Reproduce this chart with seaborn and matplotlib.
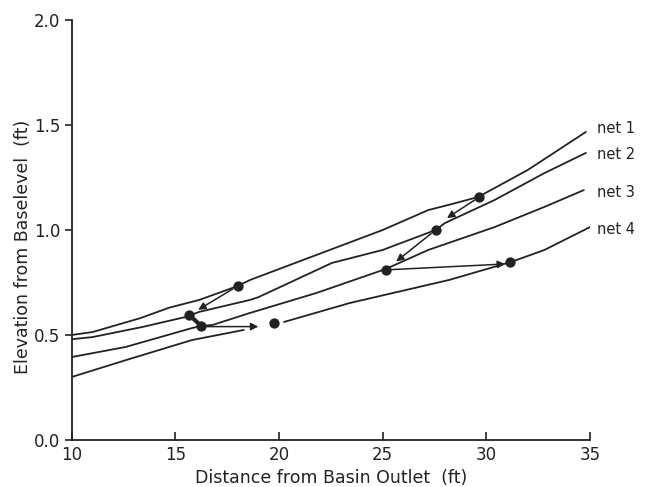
import matplotlib
matplotlib.use("Agg")
import matplotlib.pyplot as plt
import seaborn as sns
import pandas as pd

# ---- data ----
net1_x = [10, 11, 13.3, 14.7, 16.15, 18.0, 18.6, 21.8, 25.0, 27.2, 28.2, 29.6, 32.0, 34.8]
net1_y = [0.50, 0.514, 0.58, 0.63, 0.667, 0.733, 0.762, 0.881, 1.0, 1.095, 1.12, 1.157, 1.286, 1.467]

net2_x = [10, 11, 13.4, 15.5, 16.15, 18.6, 19.0, 22.55, 25.0, 27.55, 28.0, 30.4, 32.8, 34.8]
net2_y = [0.48, 0.49, 0.538, 0.586, 0.61, 0.667, 0.68, 0.843, 0.905, 1.0, 1.033, 1.143, 1.271, 1.367]

net3_x = [10, 12.6, 15.8, 16.25, 16.8, 18.6, 21.8, 25.14, 27.2, 30.4, 32.8, 34.7]
net3_y = [0.395, 0.443, 0.533, 0.543, 0.548, 0.605, 0.70, 0.814, 0.905, 1.014, 1.11, 1.19]

net4a_x = [10, 12.6, 15.8, 18.3]
net4a_y = [0.30, 0.38, 0.476, 0.524]
net4b_x = [20.24, 23.4, 28.2, 31.2, 32.8, 35.0]
net4b_y = [0.562, 0.652, 0.762, 0.848, 0.905, 1.014]

net_labels = ["net 1", "net 2", "net 3", "net 4"]
label_y = [1.485, 1.36, 1.18, 1.0]

dots_x = [18.0, 15.67, 16.25, 19.76, 29.66, 27.55, 25.14, 31.15]
dots_y = [0.733, 0.595, 0.543, 0.557, 1.157, 1.0, 0.81, 0.848]

arrow_from_x = [18.0, 16.25, 29.66, 27.55, 25.14]
arrow_from_y = [0.733, 0.540, 1.157, 1.0, 0.81]
arrow_to_x = [16.1, 19.0, 28.1, 25.65, 30.9]
arrow_to_y = [0.62, 0.540, 1.057, 0.85, 0.838]

link_x = [15.67, 16.25]
link_y = [0.595, 0.543]

x_ticks = [10, 15, 20, 25, 30, 35]
y_ticks = [0.0, 0.5, 1.0, 1.5, 2.0]

# ---- build long table ----
rows = []
for seg, (xs, ys) in {"net1": (net1_x, net1_y), "net2": (net2_x, net2_y),
                      "net3": (net3_x, net3_y), "net4a": (net4a_x, net4a_y),
                      "net4b": (net4b_x, net4b_y)}.items():
    for x, y in zip(xs, ys):
        rows.append({"seg": seg, "x": x, "y": y})
df = pd.DataFrame(rows)
dots = pd.DataFrame({"x": dots_x, "y": dots_y})

sns.set_style("ticks")
plt.rcParams["font.family"] = ["DejaVu Sans"]
ink = "#222222"

fig = plt.figure(figsize=(6.52, 4.87), dpi=100)
ax = fig.add_axes([0.110, 0.0965, 0.795, 0.8625])

sns.lineplot(data=df, x="x", y="y", units="seg", estimator=None, sort=False,
             color=ink, linewidth=1.3, ax=ax, legend=False)
sns.lineplot(x=link_x, y=link_y, color=ink, linewidth=3.0, ax=ax, legend=False)
sns.scatterplot(data=dots, x="x", y="y", color=ink, s=55, edgecolor=ink,
                linewidth=0, ax=ax, zorder=5, legend=False)

for x0, y0, x1, y1 in zip(arrow_from_x, arrow_from_y, arrow_to_x, arrow_to_y):
    ax.annotate("", xy=(x1, y1), xytext=(x0, y0),
                arrowprops=dict(arrowstyle="-|>", color=ink, lw=1.1,
                                mutation_scale=11, shrinkA=4, shrinkB=0))

for lab, ly in zip(net_labels, label_y):
    ax.text(35.35, ly, lab, fontsize=10.5, color=ink, va="center", ha="left")

ax.set_xlim(10, 35)
ax.set_ylim(0, 2.0)
ax.set_xticks(x_ticks)
ax.set_yticks(y_ticks)
ax.set_xticklabels([str(t) for t in x_ticks])
ax.set_yticklabels([f"{t:.1f}" for t in y_ticks])
ax.tick_params(axis="x", direction="in", length=6, width=1.2, labelsize=12,
               colors=ink, pad=4)
ax.tick_params(axis="y", direction="out", length=5, width=1.2, labelsize=12,
               colors=ink, pad=3)
ax.set_xlabel("Distance from Basin Outlet  (ft)", fontsize=12.5, color=ink, labelpad=4)
ax.set_ylabel("Elevation from Baselevel  (ft)", fontsize=12.5, color=ink)
ax.yaxis.set_label_coords(-0.076, 0.46)
sns.despine(ax=ax)
for s in ["left", "bottom"]:
    ax.spines[s].set_linewidth(1.3)
    ax.spines[s].set_color(ink)
ax.spines["left"].set_bounds(0, 2.0)

fig.savefig("out.png", dpi=100)
